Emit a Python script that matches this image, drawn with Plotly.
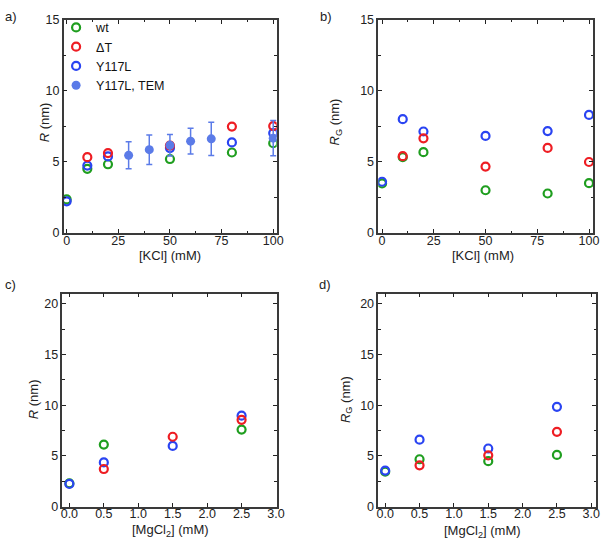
import plotly.graph_objects as go

# ---- data ----
kcl = [0, 10, 20, 50, 80, 100]
wt_R_kcl = [2.35, 4.51, 4.83, 5.20, 5.66, 6.32]
dT_R_kcl = [None, 5.33, 5.62, 6.15, 7.49, 7.52]
y117l_R_kcl = [2.22, 4.74, 5.38, 5.97, 6.37, 7.03]

tem_kcl = [30, 40, 50, 60, 70, 100]
tem_R = [5.46, 5.86, 6.17, 6.46, 6.62, 6.67]
tem_err = [0.95, 1.04, 0.75, 0.90, 1.17, 1.24]

wt_Rg_kcl = [3.48, 5.33, 5.68, 3.00, 2.77, 3.50]
dT_Rg_kcl = [None, 5.40, 6.66, 4.67, 5.98, 4.99]
y117l_Rg_kcl = [3.60, 8.01, 7.14, 6.83, 7.17, 8.31]

mg = [0.0, 0.5, 1.5, 2.5]
wt_R_mg = [2.30, 6.12, None, 7.60]
dT_R_mg = [None, 3.71, 6.89, 8.56]
y117l_R_mg = [2.24, 4.36, 5.99, 8.97]

wt_Rg_mg = [3.45, 4.67, 4.48, 5.10]
dT_Rg_mg = [None, 4.07, 5.06, 7.37]
y117l_Rg_mg = [3.56, 6.60, 5.73, 9.84]

GREEN = "#1f9e1f"
RED = "#ee1d23"
BLUE = "#2a44f2"
TEM = "#5b7be8"
FONT = "Liberation Sans, Arial, sans-serif"

W, H = 610, 551

fig = go.Figure()


def ring(x, y, color, name, xa, ya, show, rank):
    fig.add_trace(go.Scatter(
        x=x, y=y, mode="markers", name=name,
        marker=dict(symbol="circle-open", size=8, color=color, line=dict(width=2.2, color=color)),
        xaxis=xa, yaxis=ya, showlegend=show, legendrank=rank,
    ))


panels = [
    ("x", "y", kcl, wt_R_kcl, dT_R_kcl, y117l_R_kcl, True),
    ("x2", "y2", kcl, wt_Rg_kcl, dT_Rg_kcl, y117l_Rg_kcl, False),
    ("x3", "y3", mg, wt_R_mg, dT_R_mg, y117l_R_mg, False),
    ("x4", "y4", mg, wt_Rg_mg, dT_Rg_mg, y117l_Rg_mg, False),
]
for xa, ya, xs, g, r, b, show in panels:
    ring(xs, g, GREEN, "wt", xa, ya, show, 1)
    ring(xs, b, BLUE, "Y117L", xa, ya, show, 3)
    ring(xs, r, RED, "\u0394T", xa, ya, show, 2)

fig.add_trace(go.Scatter(
    x=tem_kcl, y=tem_R, mode="markers", name="Y117L, TEM",
    marker=dict(symbol="circle", size=9, color=TEM),
    error_y=dict(type="data", array=tem_err, color=TEM, thickness=1.5, width=3),
    xaxis="x", yaxis="y", legendrank=4,
))


def px_dom(a, b):
    return [a / W, b / W]


def ypx_dom(top, bottom):
    return [(H - bottom) / H, (H - top) / H]


axis_common = dict(
    showline=True, linecolor="#3a3a3a", linewidth=1.5, mirror="ticks",
    ticks="inside", ticklen=4, tickwidth=1, tickcolor="#222",
    showgrid=False, zeroline=False,
    tickfont=dict(family=FONT, size=12.5, color="#222"),
)
x_common = dict(axis_common, ticklabelstandoff=-5)
y_minor = dict(ticks="inside", ticklen=2.5, dtick=2.5)
kcl_minor = dict(ticks="inside", ticklen=2.5, dtick=12.5, tick0=0)

top_row = ypx_dom(13.3, 231.7)
bot_row = ypx_dom(294, 512.7)

fig.update_layout(
    xaxis=dict(x_common, domain=px_dom(62.7, 279.3), anchor="y", range=[-1.45, 101.7],
               tickvals=[0, 25, 50, 75, 100], minor=kcl_minor),
    yaxis=dict(axis_common, domain=top_row, anchor="x", range=[0, 15], dtick=5, minor=y_minor),
    xaxis2=dict(x_common, domain=px_dom(382.6, 601), anchor="y2", range=[-1.8, 102],
                tickvals=[0, 25, 50, 75, 100], minor=kcl_minor),
    yaxis2=dict(axis_common, domain=top_row, anchor="x2", range=[0, 15], dtick=5, minor=y_minor),
    xaxis3=dict(x_common, domain=px_dom(61.5, 279.3), anchor="y3", range=[-0.1, 3.01],
                dtick=0.5, tickformat=".1f"),
    yaxis3=dict(axis_common, domain=bot_row, anchor="x3", range=[0, 21], dtick=5, minor=y_minor),
    xaxis4=dict(x_common, domain=px_dom(382.6, 604), anchor="y4", range=[-0.1, 3.07],
                dtick=0.5, tickformat=".1f"),
    yaxis4=dict(axis_common, domain=bot_row, anchor="x4", range=[0, 21], dtick=5, minor=y_minor),
)

# axis titles and panel letters (pixel positions)
labels = [
    ("a)", 1, 10, 0, "left"), ("b)", 321, 10, 0, "left"),
    ("c)", 1, 285, 0, "left"), ("d)", 320, 285, 0, "left"),
    ("[KCl] (mM)", 171, 255, 0, "center"), ("[KCl] (mM)", 489, 255, 0, "center"),
    ("[MgCl<sub>2</sub>] (mM)", 171, 537, 0, "center"),
    ("[MgCl<sub>2</sub>] (mM)", 489, 538, 0, "center"),
    ("<i>R</i> (nm)", 43, 118, -90, "center"),
    ("<i>R</i><sub>G</sub> (nm)", 339, 118, -90, "center"),
    ("<i>R</i> (nm)", 32, 402, -90, "center"),
    ("<i>R</i><sub>G</sub> (nm)", 350, 403, -90, "center"),
]
for txt, x, y, ang, anchor in labels:
    fig.add_annotation(text=txt, x=x / W, y=1 - y / H, xref="paper", yref="paper",
                       xanchor=anchor, yanchor="middle", showarrow=False, textangle=ang,
                       font=dict(family=FONT, size=13, color="#222"))

fig.update_layout(
    width=W, height=H,
    margin=dict(l=0, r=0, t=0, b=0),
    paper_bgcolor="white", plot_bgcolor="white",
    font=dict(family=FONT, size=12.5, color="#222"),
    legend=dict(x=55 / W, y=1 - 6 / H, xanchor="left", yanchor="top",
                bgcolor="rgba(0,0,0,0)", tracegroupgap=0,
                font=dict(family=FONT, size=12.5, color="#111")),
)

# drop the browser's default body margin so the figure sits at the top-left corner
fig.write_html("out.html", config={"displayModeBar": False},
               post_script="document.body.style.margin='0';document.body.style.overflow='hidden';")
